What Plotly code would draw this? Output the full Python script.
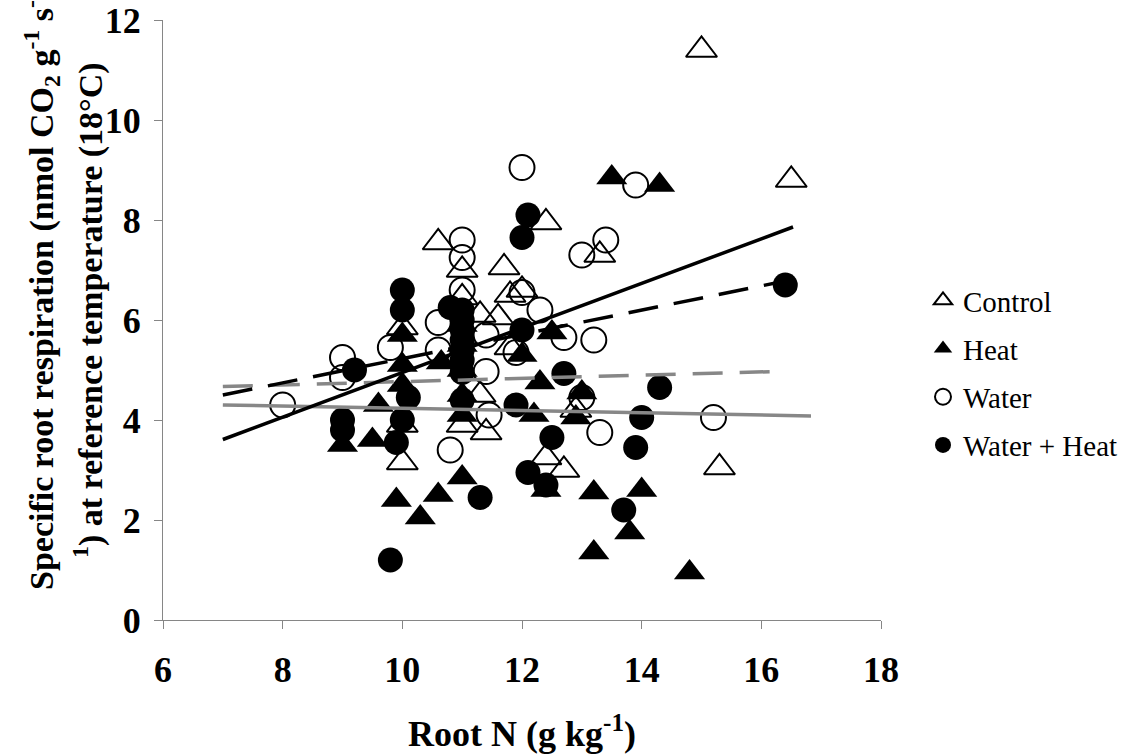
import plotly.graph_objects as go

# ---------------- data ----------------
control_x = [15.0, 16.5, 10.6, 11.0, 11.7, 12.4, 13.3, 12.0, 11.8, 11.0, 11.3, 11.6, 10.0, 11.8, 11.3, 12.9, 11.0, 11.4, 10.0, 10.0, 12.4, 12.7, 15.3]
control_y = [11.4, 8.8, 7.55, 7.0, 7.05, 7.95, 7.3, 6.6, 6.5, 6.45, 6.1, 6.05, 5.85, 5.45, 4.5, 4.2, 3.9, 3.75, 3.9, 3.15, 3.25, 3.0, 3.05]

heat_x = [13.5, 14.3, 10.0, 10.0, 10.0, 10.65, 11.0, 11.0, 11.0, 11.0, 11.0, 12.0, 12.5, 12.3, 13.0, 12.2, 12.9, 9.6, 9.5, 9.0, 9.9, 10.6, 10.3, 11.0, 12.4, 13.2, 14.0, 13.8, 13.2, 14.8]
heat_y = [8.85, 8.7, 5.7, 5.1, 4.7, 5.15, 5.9, 5.5, 5.0, 4.5, 4.1, 5.3, 5.75, 4.75, 4.55, 4.1, 4.05, 4.3, 3.6, 3.5, 2.4, 2.5, 2.05, 2.85, 2.6, 2.55, 2.6, 1.75, 1.35, 0.95]

water_x = [8.0, 9.0, 9.0, 9.8, 10.6, 10.6, 10.8, 11.0, 11.0, 11.0, 11.4, 11.4, 11.45, 11.9, 12.0, 12.0, 12.3, 12.7, 13.2, 13.0, 13.4, 13.9, 13.0, 13.3, 15.2]
water_y = [4.3, 5.25, 4.85, 5.45, 5.95, 5.4, 3.4, 7.6, 7.25, 6.6, 5.7, 4.97, 4.1, 5.35, 9.05, 6.55, 6.2, 5.65, 5.6, 7.3, 7.6, 8.7, 4.45, 3.75, 4.05]

wh_x = [9.0, 9.0, 9.2, 9.8, 9.9, 10.0, 10.0, 10.0, 10.1, 10.8, 11.0, 11.0, 11.0, 11.0, 11.0, 11.0, 11.0, 11.0, 11.3, 11.9, 12.0, 12.1, 12.0, 12.1, 12.4, 12.5, 12.7, 13.7, 13.9, 14.0, 14.3, 16.4]
wh_y = [4.0, 3.8, 5.0, 1.2, 3.55, 6.6, 6.2, 4.0, 4.45, 6.25, 6.2, 6.0, 5.8, 5.6, 5.4, 5.2, 4.95, 4.4, 2.45, 4.3, 7.65, 8.1, 5.8, 2.95, 2.7, 3.65, 4.93, 2.2, 3.45, 4.05, 4.65, 6.7]

# trend lines (end points)
fit_control_x = [7.0, 16.53]
fit_control_y = [3.61, 7.86]
fit_wh_x = [7.0, 16.4]
fit_wh_y = [4.5, 6.78]
fit_water_x = [7.0, 16.26]
fit_water_y = [4.67, 4.97]
fit_heat_x = [7.0, 16.83]
fit_heat_y = [4.30, 4.08]

x_ticks = [6, 8, 10, 12, 14, 16, 18]
y_ticks = [0, 2, 4, 6, 8, 10, 12]

x_title = "<b>Root N (g kg<sup>-1</sup>)</b>"
y_title_line1 = "<b>Specific root respiration (nmol CO<sub>2</sub> g<sup>-1</sup> s<sup>-</sup></b>"
y_title_line2 = "<b><sup>1</sup>) at reference temperature (18°C)</b>"

FONT = "Liberation Serif, Times New Roman, serif"

fig = go.Figure()

fig.add_trace(go.Scatter(
    x=control_x, y=control_y, mode="markers", name="Control", legendgroup="a",
    marker=dict(symbol="triangle-up-open", size=27, color="black", line=dict(width=2, color="black"))))
fig.add_trace(go.Scatter(
    x=heat_x, y=heat_y, mode="markers", name="Heat", legendgroup="b",
    marker=dict(symbol="triangle-up", size=27, color="black", line=dict(width=0))))
fig.add_trace(go.Scatter(
    x=water_x, y=water_y, mode="markers", name="Water", legendgroup="c",
    marker=dict(symbol="circle-open", size=25, color="black", line=dict(width=2, color="black"))))
fig.add_trace(go.Scatter(
    x=wh_x, y=wh_y, mode="markers", name="Water + Heat", legendgroup="d",
    marker=dict(symbol="circle", size=25, color="black", line=dict(width=0))))

fig.add_trace(go.Scatter(x=fit_heat_x, y=fit_heat_y, mode="lines", showlegend=False,
                         line=dict(color="#878787", width=3.5)))
fig.add_trace(go.Scatter(x=fit_water_x, y=fit_water_y, mode="lines", showlegend=False,
                         line=dict(color="#878787", width=3.5, dash="30px,17px")))
fig.add_trace(go.Scatter(x=fit_control_x, y=fit_control_y, mode="lines", showlegend=False,
                         line=dict(color="black", width=3.5)))
fig.add_trace(go.Scatter(x=fit_wh_x, y=fit_wh_y, mode="lines", showlegend=False,
                         line=dict(color="black", width=3.5, dash="30px,16px")))

fig.update_layout(
    width=1133, height=756,
    margin=dict(l=163, r=252, t=20, b=136, autoexpand=False),
    paper_bgcolor="white", plot_bgcolor="white",
    font=dict(family=FONT, color="black"),
    legend=dict(x=1.0585, y=0.575, xanchor="left", yanchor="top",
                font=dict(family=FONT, size=29, color="black"),
                tracegroupgap=7.5, itemsizing="trace", bgcolor="rgba(0,0,0,0)"),
    xaxis=dict(range=[6, 18], tickvals=x_ticks, ticktext=[str(v) for v in x_ticks],
               automargin=False,
               showgrid=False, zeroline=False, showline=True, linecolor="#868686", linewidth=1,
               ticks="outside", ticklen=8, tickcolor="#868686", tickwidth=1,
               ticklabelstandoff=10,
               tickfont=dict(family=FONT, size=36, color="black", weight="bold"),
               title=dict(text=x_title, font=dict(family=FONT, size=36, color="black"),
                          standoff=31)),
    yaxis=dict(range=[0, 12], tickvals=y_ticks, ticktext=[str(v) for v in y_ticks],
               automargin=False,
               showgrid=False, zeroline=False, showline=True, linecolor="#868686", linewidth=1,
               ticks="outside", ticklen=8, tickcolor="#868686", tickwidth=1,
               ticklabelstandoff=6,
               tickfont=dict(family=FONT, size=36, color="black", weight="bold")),
    annotations=[
        dict(text=y_title_line1, xref="paper", yref="paper", x=-0.1685, y=0.5417,
             xanchor="center", yanchor="middle", textangle=-90, showarrow=False,
             font=dict(family=FONT, size=34, color="black")),
        dict(text=y_title_line2, xref="paper", yref="paper", x=-0.1030, y=0.5167,
             xanchor="center", yanchor="middle", textangle=-90, showarrow=False,
             font=dict(family=FONT, size=34, color="black")),
    ],
)

fig.write_html("out.html")
